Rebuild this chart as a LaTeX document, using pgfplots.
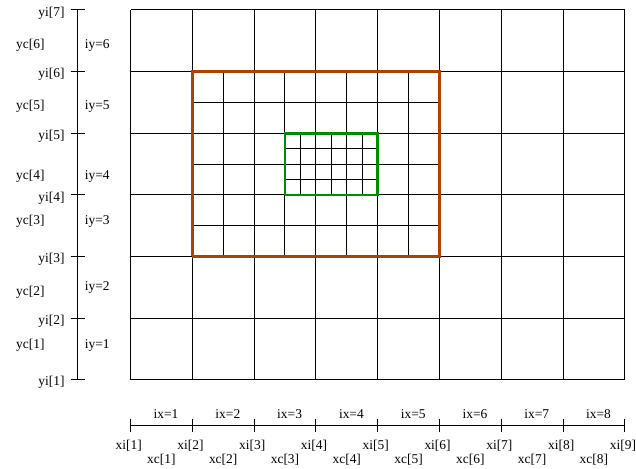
\documentclass[border=0pt]{standalone}
\usepackage{pgfplots}
\pgfplotsset{compat=1.18}
\usepackage{fontspec}
\setmainfont{Liberation Serif}
\definecolor{orng}{RGB}{168,68,0}
\definecolor{grn}{RGB}{0,140,0}
\begin{document}
\begin{tikzpicture}
\begin{axis}[
  scale only axis, width=636pt, height=470pt,
  xmin=-2.113, xmax=8.145, ymin=-1.439, ymax=6.162,
  hide axis, clip=false,
  unbounded coords=jump,
  every axis plot/.append style={line width=1pt},
  font=\fontsize{13.5}{16}\selectfont,
]
\addplot[draw=none, forget plot] coordinates {(-2.113,-1.439) (8.145,6.162)};
% main grid
\addplot[black] table {
x y
0 0
0 6
nan nan
1 0
1 6
nan nan
2 0
2 6
nan nan
3 0
3 6
nan nan
4 0
4 6
nan nan
5 0
5 6
nan nan
6 0
6 6
nan nan
7 0
7 6
nan nan
8 0
8 6
nan nan
0 0
8 0
nan nan
0 1
8 1
nan nan
0 2
8 2
nan nan
0 3
8 3
nan nan
0 4
8 4
nan nan
0 5
8 5
nan nan
0 6
8 6
};
% refined level 1
\addplot[black] table {
x y
1.5 2
1.5 5
nan nan
2.5 2
2.5 5
nan nan
3.5 2
3.5 5
nan nan
4.5 2
4.5 5
nan nan
1 2.5
5 2.5
nan nan
1 3.5
5 3.5
nan nan
1 4.5
5 4.5
};
% refined level 2
\addplot[black] table {
x y
2.75 3
2.75 4
nan nan
3.25 3
3.25 4
nan nan
3.75 3
3.75 4
nan nan
2.5 3.25
4 3.25
nan nan
2.5 3.75
4 3.75
};
% orange box
\addplot[orng, line width=2.6pt] coordinates {(1,2) (5,2) (5,5) (1,5) (1,2)};
% green box
\addplot[grn, line width=2.6pt] coordinates {(2.5,3) (4,3) (4,4) (2.5,4) (2.5,3)};
% left axis
\addplot[black] table {
x y
-0.855 0
-0.855 6
nan nan
-0.968 0
-0.742 0
nan nan
-0.968 1
-0.742 1
nan nan
-0.968 2
-0.742 2
nan nan
-0.968 3
-0.742 3
nan nan
-0.968 4
-0.742 4
nan nan
-0.968 5
-0.742 5
nan nan
-0.968 6
-0.742 6
};
% bottom axis
\addplot[black] table {
x y
0 -0.739
8 -0.739
nan nan
0 -0.631
0 -0.857
nan nan
1 -0.631
1 -0.857
nan nan
2 -0.631
2 -0.857
nan nan
3 -0.631
3 -0.857
nan nan
4 -0.631
4 -0.857
nan nan
5 -0.631
5 -0.857
nan nan
6 -0.631
6 -0.857
nan nan
7 -0.631
7 -0.857
nan nan
8 -0.631
8 -0.857
};
% yi labels
\node[anchor=east, inner sep=0pt] at (axis cs:-1.065,-0.05) {yi[1]};
\node[anchor=east, inner sep=0pt] at (axis cs:-1.065,0.95) {yi[2]};
\node[anchor=east, inner sep=0pt] at (axis cs:-1.065,1.95) {yi[3]};
\node[anchor=east, inner sep=0pt] at (axis cs:-1.065,2.95) {yi[4]};
\node[anchor=east, inner sep=0pt] at (axis cs:-1.065,3.95) {yi[5]};
\node[anchor=east, inner sep=0pt] at (axis cs:-1.065,4.95) {yi[6]};
\node[anchor=east, inner sep=0pt] at (axis cs:-1.065,5.95) {yi[7]};
% yc and iy labels
\node[anchor=west, inner sep=0pt] at (axis cs:-1.855,0.555) {yc[1]};
\node[anchor=west, inner sep=0pt] at (axis cs:-1.855,1.42) {yc[2]};
\node[anchor=west, inner sep=0pt] at (axis cs:-1.855,2.57) {yc[3]};
\node[anchor=west, inner sep=0pt] at (axis cs:-1.855,3.30) {yc[4]};
\node[anchor=west, inner sep=0pt] at (axis cs:-1.855,4.44) {yc[5]};
\node[anchor=west, inner sep=0pt] at (axis cs:-1.855,5.43) {yc[6]};
\node[anchor=west, inner sep=0pt] at (axis cs:-0.742,0.555) {iy=1};
\node[anchor=west, inner sep=0pt] at (axis cs:-0.742,1.49) {iy=2};
\node[anchor=west, inner sep=0pt] at (axis cs:-0.742,2.57) {iy=3};
\node[anchor=west, inner sep=0pt] at (axis cs:-0.742,3.30) {iy=4};
\node[anchor=west, inner sep=0pt] at (axis cs:-0.742,4.44) {iy=5};
\node[anchor=west, inner sep=0pt] at (axis cs:-0.742,5.43) {iy=6};
% bottom labels
\node[inner sep=0pt] at (axis cs:0.575,-0.566) {ix=1};
\node[inner sep=0pt] at (axis cs:1.575,-0.566) {ix=2};
\node[inner sep=0pt] at (axis cs:2.575,-0.566) {ix=3};
\node[inner sep=0pt] at (axis cs:3.575,-0.566) {ix=4};
\node[inner sep=0pt] at (axis cs:4.575,-0.566) {ix=5};
\node[inner sep=0pt] at (axis cs:5.575,-0.566) {ix=6};
\node[inner sep=0pt] at (axis cs:6.575,-0.566) {ix=7};
\node[inner sep=0pt] at (axis cs:7.575,-0.566) {ix=8};
\node[inner sep=0pt] at (axis cs:-0.03,-1.067) {xi[1]};
\node[inner sep=0pt] at (axis cs:0.97,-1.067) {xi[2]};
\node[inner sep=0pt] at (axis cs:1.97,-1.067) {xi[3]};
\node[inner sep=0pt] at (axis cs:2.97,-1.067) {xi[4]};
\node[inner sep=0pt] at (axis cs:3.97,-1.067) {xi[5]};
\node[inner sep=0pt] at (axis cs:4.97,-1.067) {xi[6]};
\node[inner sep=0pt] at (axis cs:5.97,-1.067) {xi[7]};
\node[inner sep=0pt] at (axis cs:6.97,-1.067) {xi[8]};
\node[inner sep=0pt] at (axis cs:7.97,-1.067) {xi[9]};
\node[inner sep=0pt] at (axis cs:0.5,-1.294) {xc[1]};
\node[inner sep=0pt] at (axis cs:1.5,-1.294) {xc[2]};
\node[inner sep=0pt] at (axis cs:2.5,-1.294) {xc[3]};
\node[inner sep=0pt] at (axis cs:3.5,-1.294) {xc[4]};
\node[inner sep=0pt] at (axis cs:4.5,-1.294) {xc[5]};
\node[inner sep=0pt] at (axis cs:5.5,-1.294) {xc[6]};
\node[inner sep=0pt] at (axis cs:6.5,-1.294) {xc[7]};
\node[inner sep=0pt] at (axis cs:7.5,-1.294) {xc[8]};
\end{axis}
\end{tikzpicture}
\end{document}
